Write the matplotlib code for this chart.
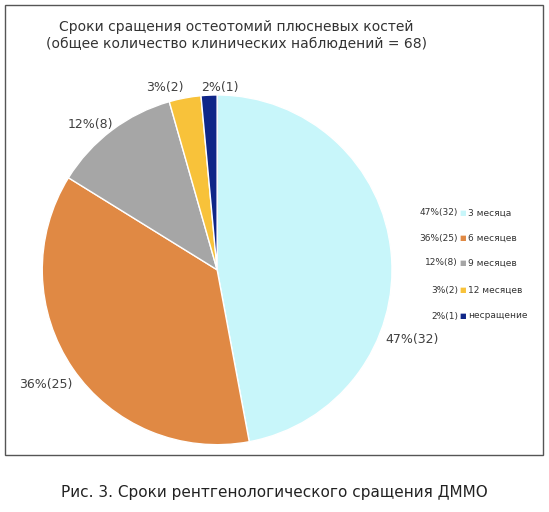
import matplotlib.pyplot as plt
from matplotlib.patches import Rectangle

counts = [32, 25, 8, 2, 1]
pct = [47, 36, 12, 3, 2]
names = ['3 месяца', '6 месяцев', '9 месяцев', '12 месяцев', 'несращение']
colors = ['#c8f6fa', '#e08944', '#a6a6a6', '#f8c23a', '#0f2688']

fig = plt.figure(figsize=(5.49, 5.12), dpi=100)
fig.patches.append(Rectangle((0.009, 0.111), 0.98, 0.879, transform=fig.transFigure,
                             fill=False, edgecolor='#555555', linewidth=1))

ax = fig.add_axes([0.077, 0.131, 0.637, 0.684])
labels = [f'{p}%({c})' for p, c in zip(pct, counts)]
ax.pie(counts, colors=colors, startangle=90, counterclock=False,
       wedgeprops=dict(edgecolor='white', linewidth=1))
ax.set_xlim(-1, 1)
ax.set_ylim(-1, 1)
ax.set_aspect('equal')

# label positions (pixel coords in the reference)
label_px = [(412, 340), (45, 385), (90, 125), (165, 88), (220, 88)]
for lab, (px, py) in zip(labels, label_px):
    ax.text((px - 217) / 175, (270 - py) / 175, lab, ha='center', va='center',
            fontsize=9, color='#404040')

fig.text(0.43, 0.93, 'Сроки сращения остеотомий плюсневых костей\n(общее количество клинических наблюдений = 68)',
         ha='center', va='center', fontsize=10, color='#333333', linespacing=1.3)

ys = [213, 238, 263, 290, 316]
for lab, name, col, y in zip(labels, names, colors, ys):
    yf = 1 - y / 512
    fig.text(458 / 549, yf, lab, ha='right', va='center', fontsize=6.5, color='#333333')
    fig.text(463 / 549, yf, '■', ha='center', va='center', fontsize=5, color=col)
    fig.text(468 / 549, yf, name, ha='left', va='center', fontsize=6.5, color='#333333')

fig.text(0.5, 1 - 492 / 512, 'Рис. 3. Сроки рентгенологического сращения ДММО',
         ha='center', va='center', fontsize=11, color='#222222')

fig.savefig('out.png', dpi=100)
